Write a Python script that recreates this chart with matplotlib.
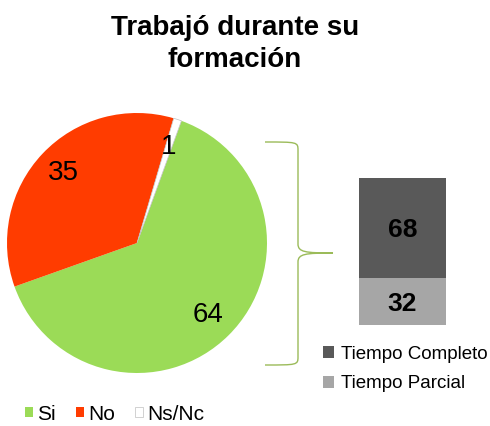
import matplotlib
matplotlib.use("Agg")

import matplotlib.pyplot as plt
from matplotlib.path import Path
from matplotlib.patches import PathPatch

plt.rcParams["font.family"] = ["Liberation Sans", "DejaVu Sans"]

# Data

pie_labels = ["Si", "No", "Ns/Nc"]

pie_values = [64, 35, 1]

pie_colors = ["#9BDB57", "#FF3C00", "#FFFFFF"]

bar_labels = ["Tiempo Completo", "Tiempo Parcial"]

bar_values = [68, 32]

bar_colors = ["#595959", "#A6A6A6"]

W, H = 490, 426


def fig_box(x0, y0, x1, y1):
    # image pixel box -> figure fraction [left, bottom, width, height]
    return [x0 / W, 1 - y1 / H, (x1 - x0) / W, (y1 - y0) / H]


def fp(x, y):
    return (x / W, 1 - y / H)


fig = plt.figure(figsize=(W / 100, H / 100), dpi=100)

fig.text(235 / W, 1 - 44 / H, "Trabajó durante su\nformación",
         ha="center", va="center", fontsize=20, fontweight="bold",
         linespacing=1.3)

# =====================================================
# Pie
# =====================================================

ax_pie = fig.add_axes(fig_box(7, 113, 267, 373))

wedges, texts, autotexts = ax_pie.pie(
    pie_values,
    colors=pie_colors,
    startangle=70,
    counterclock=False,
    autopct=lambda p: f"{p:.0f}",
    pctdistance=0.78,
    radius=1,
    wedgeprops=dict(edgecolor="none"),
    textprops=dict(fontsize=20, color="black"),
)

wedges[2].set_edgecolor("#BFBFBF")
wedges[2].set_linewidth(0.5)

ax_pie.set_xlim(-1, 1)
ax_pie.set_ylim(-1, 1)
ax_pie.axis("off")

fig.legend(
    wedges,
    pie_labels,
    loc="center left",
    bbox_to_anchor=fp(25, 414),
    ncol=3,
    frameon=False,
    fontsize=15,
    handlelength=0.4,
    handleheight=0.4,
    handletextpad=0.2,
    columnspacing=0.95,
    borderpad=0,
    borderaxespad=0,
)

# =====================================================
# Brace
# =====================================================

verts = [
    fp(265, 142),
    fp(297, 142), fp(298, 142), fp(298, 150),
    fp(298, 244),
    fp(298, 252), fp(305, 253), fp(333, 253),
    fp(305, 253), fp(298, 254), fp(298, 262),
    fp(298, 357),
    fp(298, 365), fp(297, 365), fp(265, 365),
]
codes = [Path.MOVETO,
         Path.CURVE4, Path.CURVE4, Path.CURVE4,
         Path.LINETO,
         Path.CURVE4, Path.CURVE4, Path.CURVE4,
         Path.CURVE4, Path.CURVE4, Path.CURVE4,
         Path.LINETO,
         Path.CURVE4, Path.CURVE4, Path.CURVE4]

brace = PathPatch(Path(verts, codes), transform=fig.transFigure,
                  facecolor="none", edgecolor="#9BBB59", linewidth=1.0)
fig.patches.append(brace)

# =====================================================
# Stacked bar
# =====================================================

ax_bar = fig.add_axes(fig_box(359, 178, 446, 325))

bars = []
bottom = 0
for i in [1, 0]:
    b = ax_bar.bar(0, bar_values[i], bottom=bottom, width=1,
                   color=bar_colors[i], label=bar_labels[i])
    ax_bar.text(0, bottom + bar_values[i] / 2 - 1.5, str(bar_values[i]),
                ha="center", va="center", fontsize=19, fontweight="bold",
                color="black")
    bars.append(b)
    bottom += bar_values[i]

ax_bar.set_xlim(-0.5, 0.5)
ax_bar.set_ylim(0, 100)
ax_bar.axis("off")

fig.legend(
    [bars[1], bars[0]],
    bar_labels,
    loc="upper left",
    bbox_to_anchor=fp(323, 346),
    frameon=False,
    fontsize=13.5,
    handlelength=0.6,
    handleheight=0.6,
    handletextpad=0.35,
    labelspacing=0.65,
    borderpad=0,
    borderaxespad=0,
)

plt.savefig("out.png", dpi=100)
